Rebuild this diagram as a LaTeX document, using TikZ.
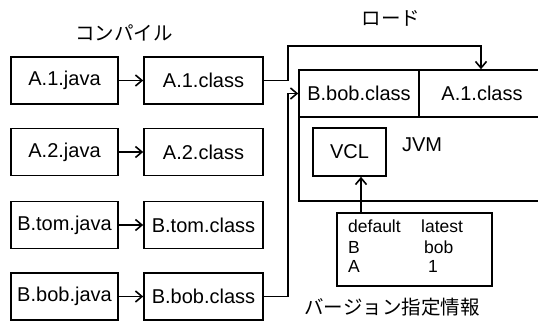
\documentclass[tikz,border=0pt]{standalone}
\usepackage{fontspec}
\setmainfont{Liberation Sans}
\newfontfamily\jpfont{Noto Sans CJK JP}
\usetikzlibrary{arrows.meta,calc}
\begin{document}
\begin{tikzpicture}[x=1pt,y=-1pt,
 bx/.style={draw, line width=1.6pt, inner sep=0pt, minimum height=47pt, font=\fontsize{20}{24}\selectfont},
 src/.style={bx, minimum width=107pt},
 cls/.style={bx, minimum width=119pt},
 arr/.style={line width=1.6pt, -{Straight Barb[length=6.5pt,width=11pt,line width=1.6pt]}},
 lbl/.style={font=\jpfont\fontsize{19.5}{24}\selectfont, inner sep=0pt},
 txt/.style={font=\fontsize{20}{24}\selectfont, inner sep=0pt},
 sm/.style={font=\fontsize{17.5}{20}\selectfont, inner sep=0pt, anchor=west}]
\useasboundingbox (0,0) rectangle (538,323);
\clip (0,0) rectangle (538,323);
% compile column
\node[src] (j1) at (64.5,80.5) {A.1.java};
\node[cls] (c1) at (203.5,80.5) {A.1.class};
\node[src] (j2) at (64.5,152) {A.2.java};
\node[cls] (c2) at (203.5,152) {A.2.class};
\node[src] (j3) at (64.5,225) {B.tom.java};
\node[cls] (c3) at (203.5,225) {B.tom.class};
\node[src] (j4) at (64.5,296.5) {B.bob.java};
\node[cls] (c4) at (203.5,296.5) {B.bob.class};
\foreach \i in {1,2,3,4} \draw[arr] (j\i) -- (c\i);
% labels
\node[lbl] (compile) at (124,33) {コンパイル};
\node[lbl] (load) at (391,18) {ロード};
\node[lbl] (verinfo) at (392,307) {バージョン指定情報};
% JVM
\node[draw, line width=1.6pt, minimum width=246pt, minimum height=131pt, inner sep=0pt] (jvm) at (422,135.5) {};
\node[bx, minimum width=120pt] (cb) at (359,93.5) {B.bob.class};
\node[bx, minimum width=126pt] (ca) at (482,93.5) {A.1.class};
\node[txt] (jvmlabel) at (422,145) {JVM};
\node[bx, minimum width=73pt, minimum height=48pt] (vcl) at (349.5,152) {VCL};
% version table
\node[draw, line width=1.6pt, minimum width=155pt, minimum height=73pt, inner sep=0pt] (ver) at (414.5,249.5) {};
\node[sm] (t1) at (348,226) {default};
\node[sm] (t2) at (421,226) {latest};
\node[sm] (t3) at (348,247) {B};
\node[sm] (t4) at (424,247) {bob};
\node[sm] (t5) at (348,266) {A};
\node[sm] (t6) at (428,266) {1};
% load connectors
\coordinate (up) at (288,46);
\coordinate (dn) at (481,46);
\draw[arr] (c1.east) -- (c1.east -| up) -- (up) -- (dn) -- (dn |- jvm.north);
\draw[arr] (c4.east) -- (c4.east -| up) -- (up |- cb.west) -- (cb.west);
\coordinate (va) at (361,249.5);
\draw[arr] (va |- ver.north) -- (va |- vcl.south);
\end{tikzpicture}
\end{document}
